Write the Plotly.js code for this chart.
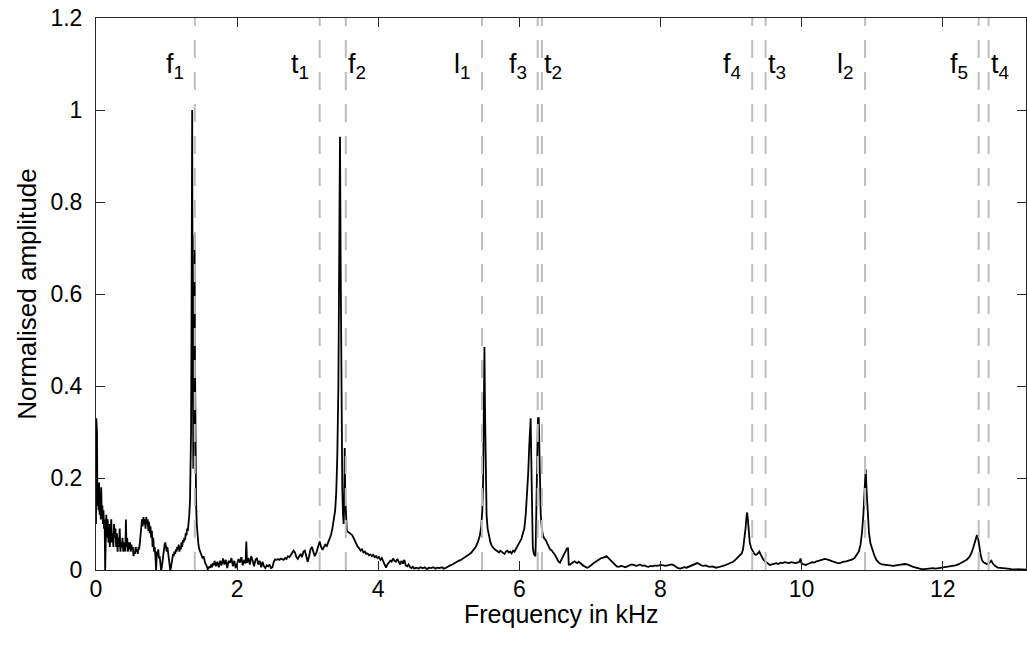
<!DOCTYPE html>
<html>
<head>
<meta charset="utf-8">
<script src="https://cdn.plot.ly/plotly-3.0.1.min.js"></script>
<style>
html,body{margin:0;padding:0;background:#fff;}
#chart{width:1027px;height:652px;}
</style>
</head>
<body>
<div id="chart"></div>
<script>
// Spectrum (frequency in kHz, normalised amplitude)
const freqKHz = [
0.000,0.004,0.008,0.014,0.020,0.028,0.036,0.044,0.052,0.060,0.068,0.074,0.082,0.090,0.098,0.106,0.114,0.122,0.130,0.136,
0.146,0.156,0.166,0.176,0.186,0.196,0.206,0.216,0.226,0.236,0.246,0.256,0.266,0.276,0.286,0.296,0.306,0.316,0.326,0.336,
0.346,0.356,0.366,0.376,0.386,0.396,0.406,0.416,0.424,0.432,0.442,0.452,0.462,0.472,0.482,0.492,0.502,0.512,0.522,0.532,
0.542,0.552,0.562,0.572,0.582,0.592,0.602,0.612,0.622,0.632,0.642,0.652,0.662,0.672,0.682,0.692,0.702,0.712,0.722,0.732,
0.742,0.752,0.762,0.772,0.782,0.792,0.802,0.812,0.822,0.832,0.842,0.852,0.862,0.872,0.882,0.892,0.902,0.912,0.922,0.932,
0.942,0.952,0.962,0.972,0.982,0.992,1.002,1.012,1.022,1.032,1.042,1.052,1.062,1.072,1.082,1.092,1.102,1.112,1.122,1.132,
1.142,1.152,1.162,1.172,1.182,1.192,1.202,1.212,1.222,1.232,1.242,1.252,1.262,1.272,1.282,1.292,1.302,1.312,1.322,1.332,
1.340,1.347,1.353,1.358,1.363,1.368,1.373,1.379,1.386,1.392,1.397,1.403,1.410,1.418,1.428,1.440,1.452,1.464,1.476,1.488,
1.500,1.512,1.524,1.536,1.548,1.560,1.572,1.584,1.596,1.608,1.620,1.632,1.644,1.656,1.668,
1.680,1.700,1.720,1.740,1.760,1.780,1.800,1.820,1.840,1.860,1.880,1.900,1.920,1.940,1.960,1.980,2.000,2.020,2.040,2.060,
2.080,2.100,2.120,2.130,2.140,2.160,2.180,2.200,2.220,2.240,2.260,2.280,2.300,2.320,2.340,2.360,2.380,2.400,2.420,2.440,
2.460,2.480,2.500,2.520,2.540,2.560,2.580,2.600,2.620,2.640,2.660,2.680,2.700,2.720,2.740,2.760,2.780,2.800,2.820,2.840,
2.860,2.880,2.900,2.920,2.940,2.960,2.980,3.000,3.020,3.040,3.060,3.080,3.100,3.120,3.140,3.160,3.170,3.190,3.210,3.230,
3.250,3.270,3.290,3.310,3.330,3.350,3.370,3.390,3.405,3.420,3.435,3.447,3.458,3.468,3.478,3.490,3.500,3.510,3.518,3.525,
3.532,3.542,3.555,3.570,3.590,3.610,3.630,3.650,3.670,3.690,3.710,3.730,3.750,3.770,3.790,3.810,3.830,3.850,3.870,3.890,
3.910,3.930,3.950,3.970,3.990,4.010,4.030,4.050,4.070,4.090,4.110,4.130,4.150,4.170,4.190,4.210,4.230,4.250,4.270,4.290,
4.310,4.330,4.350,4.370,4.390,4.410,4.430,4.450,4.470,4.490,4.510,4.540,4.570,4.600,4.630,4.660,4.690,4.720,4.750,4.780,
4.810,4.840,4.870,4.900,4.930,4.960,4.990,5.020,5.050,5.080,5.110,5.140,5.170,5.200,5.230,5.260,5.290,5.320,5.350,5.380,
5.410,5.440,5.460,5.475,5.487,5.497,5.505,5.513,5.522,5.535,5.550,5.570,5.590,5.610,5.630,5.650,5.670,5.690,5.710,5.730,
5.750,5.770,5.790,5.810,5.830,5.850,5.870,5.890,5.910,5.930,5.950,5.970,5.990,6.010,6.030,6.050,6.070,6.090,6.110,6.125,
6.140,6.152,6.160,6.168,6.178,6.190,6.205,6.220,6.228,6.236,6.245,6.255,6.263,6.275,6.283,6.292,6.303,6.318,6.335,6.355,
6.375,6.395,6.415,6.435,6.455,6.475,6.495,6.515,6.535,6.555,6.575,6.595,6.615,6.635,6.655,6.675,6.690,6.700,6.720,6.740,
6.760,6.780,6.800,6.820,6.840,6.860,6.880,6.900,6.920,6.940,6.960,6.980,7.000,7.030,7.060,7.090,7.120,7.150,7.180,7.210,
7.235,7.260,7.290,7.320,7.350,7.380,7.410,7.440,7.470,7.500,7.530,7.560,7.590,7.620,7.650,7.680,7.710,7.740,7.770,7.800,
7.830,7.860,7.890,7.920,7.950,7.980,8.010,8.040,8.070,8.100,8.130,8.160,8.190,8.220,8.250,8.280,8.310,8.340,8.370,8.400,
8.430,8.460,8.490,8.520,8.550,8.580,8.610,8.640,8.670,8.700,8.730,8.760,8.790,8.820,8.850,8.880,8.910,8.940,8.970,9.000,
9.030,9.060,9.090,9.120,9.150,9.170,9.190,9.205,9.218,9.228,9.238,9.250,9.265,9.285,9.305,9.325,9.345,9.365,9.385,9.400,
9.415,9.435,9.460,9.490,9.520,9.550,9.580,9.610,9.640,9.670,9.700,9.730,9.760,9.790,9.820,9.850,9.880,9.910,9.940,9.970,
9.985,10.000,10.030,10.060,10.090,10.120,10.150,10.180,10.210,10.240,10.270,10.300,10.330,10.360,10.390,10.420,10.450,10.480,10.510,10.540,
10.570,10.600,10.630,10.660,10.690,10.720,10.750,10.780,10.810,10.835,10.855,10.875,10.893,10.908,10.922,10.938,10.955,10.975,11.000,11.030,
11.060,11.100,11.140,11.180,11.220,11.260,11.300,11.340,11.380,11.420,11.460,11.500,11.540,11.580,11.620,11.660,11.700,11.740,11.780,11.820,
11.860,11.900,11.940,11.980,12.020,12.060,12.100,12.140,12.180,12.220,12.260,12.300,12.340,12.380,12.410,12.440,12.465,12.485,12.500,12.515,
12.535,12.555,12.575,12.600,12.620,12.645,12.670,12.690,12.710,12.740,12.780,12.820,12.870,12.920,12.970,13.020,13.070,13.120,13.180
];
const amplitude = [
0.10,0.33,0.12,0.30,0.14,0.17,0.13,0.19,0.12,0.16,0.11,0.18,0.12,0.14,0.10,0.13,0.09,0.11,0.00,0.10,
0.12,0.07,0.11,0.06,0.10,0.05,0.09,0.11,0.06,0.08,0.05,0.10,0.07,0.09,0.05,0.08,0.04,0.07,0.05,0.09,
0.04,0.06,0.05,0.07,0.04,0.06,0.05,0.04,0.11,0.05,0.07,0.04,0.06,0.045,0.06,0.04,0.055,0.045,0.05,0.03,
0.04,0.035,0.05,0.04,0.045,0.035,0.05,0.045,0.06,0.075,0.09,0.11,0.095,0.115,0.10,0.11,0.09,0.115,0.10,0.11,
0.085,0.105,0.08,0.095,0.07,0.085,0.05,0.07,0.04,0.05,0.03,0.00,0.04,0.03,0.045,0.025,0.03,0.01,0.00,0.005,
0.02,0.04,0.05,0.055,0.06,0.05,0.04,0.05,0.035,0.02,0.01,0.00,0.005,0.02,0.03,0.035,0.03,0.04,0.035,0.045,
0.04,0.05,0.045,0.055,0.04,0.05,0.045,0.06,0.05,0.065,0.06,0.07,0.065,0.08,0.075,0.09,0.085,0.10,0.12,0.15,
0.20,0.30,0.50,0.75,1.00,0.62,0.35,0.22,0.35,0.60,0.73,0.45,0.25,0.15,0.10,0.07,0.055,0.045,0.04,0.035,
0.03,0.025,0.03,0.02,0.015,0.012,0.005,0.002,0.004,0.008,0.005,0.012,0.006,0.015,0.01,
0.02,0.008,0.018,0.006,0.02,0.01,0.025,0.012,0.022,0.004,0.02,0.016,0.026,0.008,0.02,0.004,0.015,0.024,0.016,0.028,
0.01,0.022,0.014,0.062,0.016,0.026,0.012,0.03,0.02,0.008,0.022,0.026,0.012,0.02,0.006,0.018,0.008,0.004,0.01,0.008,
0.012,0.004,0.006,0.018,0.023,0.022,0.024,0.022,0.025,0.023,0.022,0.026,0.024,0.03,0.028,0.032,0.036,0.042,0.038,0.028,
0.024,0.03,0.035,0.028,0.04,0.042,0.03,0.018,0.03,0.045,0.05,0.04,0.03,0.036,0.048,0.055,0.062,0.05,0.044,0.05,
0.055,0.052,0.06,0.065,0.076,0.09,0.11,0.13,0.17,0.25,0.40,0.65,0.942,0.65,0.35,0.18,0.12,0.10,0.14,0.265,
0.16,0.10,0.085,0.083,0.08,0.078,0.076,0.07,0.062,0.055,0.05,0.047,0.042,0.045,0.038,0.04,0.035,0.036,0.032,0.034,
0.03,0.033,0.028,0.03,0.026,0.028,0.022,0.026,0.018,0.014,0.005,0.012,0.015,0.02,0.018,0.025,0.02,0.018,0.024,0.016,
0.012,0.02,0.014,0.022,0.01,0.008,0.012,0.006,0.004,0.007,0.003,0.005,0.003,0.006,0.004,0.006,0.002,0.005,0.004,0.006,
0.003,0.005,0.004,0.006,0.003,0.005,0.008,0.01,0.012,0.015,0.017,0.02,0.022,0.025,0.028,0.03,0.034,0.038,0.043,0.05,
0.06,0.075,0.095,0.13,0.20,0.35,0.485,0.35,0.20,0.12,0.09,0.072,0.06,0.052,0.048,0.045,0.043,0.04,0.038,0.042,
0.04,0.037,0.035,0.04,0.042,0.038,0.04,0.036,0.042,0.04,0.045,0.05,0.055,0.06,0.068,0.08,0.09,0.12,0.16,0.21,
0.27,0.33,0.33,0.25,0.12,0.05,0.035,0.03,0.03,0.09,0.18,0.28,0.33,0.33,0.28,0.18,0.12,0.09,0.075,0.068,
0.065,0.058,0.05,0.045,0.043,0.04,0.035,0.03,0.024,0.018,0.016,0.022,0.028,0.034,0.04,0.047,0.047,0.012,0.012,0.015,
0.017,0.019,0.017,0.015,0.018,0.016,0.013,0.01,0.008,0.006,0.005,0.006,0.008,0.012,0.016,0.02,0.022,0.025,0.026,0.028,
0.03,0.026,0.022,0.017,0.012,0.008,0.007,0.009,0.008,0.006,0.008,0.01,0.012,0.011,0.009,0.01,0.012,0.009,0.01,0.008,
0.007,0.009,0.008,0.01,0.009,0.01,0.011,0.01,0.009,0.01,0.011,0.012,0.01,0.007,0.004,0.003,0.004,0.006,0.005,0.007,
0.01,0.012,0.014,0.015,0.013,0.01,0.009,0.01,0.008,0.007,0.008,0.006,0.005,0.006,0.007,0.009,0.01,0.012,0.014,0.016,
0.018,0.022,0.026,0.03,0.036,0.045,0.065,0.09,0.115,0.125,0.11,0.08,0.06,0.048,0.04,0.036,0.033,0.034,0.037,0.04,
0.035,0.028,0.022,0.018,0.014,0.011,0.012,0.014,0.015,0.013,0.016,0.015,0.017,0.016,0.015,0.017,0.016,0.015,0.016,0.018,
0.025,0.014,0.012,0.011,0.013,0.015,0.017,0.016,0.019,0.02,0.021,0.023,0.024,0.023,0.022,0.02,0.018,0.016,0.015,0.015,
0.017,0.018,0.019,0.02,0.021,0.023,0.026,0.032,0.04,0.055,0.08,0.12,0.17,0.219,0.17,0.12,0.08,0.058,0.045,0.032,
0.022,0.015,0.012,0.011,0.01,0.009,0.009,0.01,0.011,0.012,0.013,0.012,0.009,0.007,0.005,0.003,0.002,0.002,0.003,0.003,
0.004,0.003,0.004,0.005,0.005,0.006,0.007,0.009,0.01,0.012,0.015,0.018,0.022,0.029,0.038,0.052,0.068,0.076,0.07,0.052,
0.035,0.022,0.017,0.015,0.013,0.014,0.018,0.02,0.014,0.009,0.005,0.004,0.003,0.003,0.002,0.002,0.001,0.001,0.001
];

// Mode markers (dashed lines) and their labels
const markerFreqs   = [1.40, 3.17, 3.54, 5.47, 6.26, 6.32, 9.30, 9.49, 10.90, 12.51, 12.65];
const markerLetters = ['f','t','f','l','f','t','f','t','l','f','t'];
const markerIndex   = ['1','1','2','1','3','2','4','3','2','5','4'];
const markerSide    = ['L','L','R','L','L','R','L','R','L','L','R'];

const xTickVals = [0,2,4,6,8,10,12];
const yTickVals = [0,0.2,0.4,0.6,0.8,1,1.2];
const xTitle = 'Frequency in kHz';
const yTitle = 'Normalised amplitude';

const FONT = 'Liberation Sans, Arial, Helvetica, sans-serif';

const shapes = markerFreqs.map(f => ({
  type:'line', xref:'x', yref:'paper', x0:f, x1:f, y0:0, y1:1,
  line:{color:'#bdbdbd', width:2, dash:'18px,14px'}, layer:'above'
}));

const annotations = markerFreqs.map((f,i) => ({
  x:f, xref:'x', y:1.095, yref:'y',
  text: markerLetters[i] + '<sub>' + markerIndex[i] + '</sub>',
  showarrow:false,
  xanchor: markerSide[i]==='L' ? 'right' : 'left',
  xshift: markerSide[i]==='L' ? -9 : 0,
  yanchor:'middle',
  font:{family:FONT, size:27, color:'#000'}
}));

// x-axis title placed just below the tick labels
annotations.push({
  text:xTitle, xref:'paper', yref:'paper', x:0.5, y:0, yshift:-44,
  xanchor:'center', yanchor:'middle', showarrow:false,
  font:{family:FONT, size:25, color:'#000'}
});

const trace = {
  x: freqKHz, y: amplitude, type:'scatter', mode:'lines',
  line:{color:'#000', width:1.8}, hoverinfo:'skip'
};

const axisCommon = {
  showgrid:false, zeroline:false, showline:true, linecolor:'#262626', linewidth:1,
  mirror:'ticks', ticks:'inside', ticklen:9, tickcolor:'#262626', tickwidth:1,
  tickfont:{family:FONT, size:23, color:'#000'}
};

const layout = {
  width:1027, height:652,
  margin:{l:96, r:1, t:18, b:82, pad:0},
  paper_bgcolor:'#fff', plot_bgcolor:'#fff',
  showlegend:false,
  font:{family:FONT, color:'#000'},
  xaxis: Object.assign({}, axisCommon, {
    range:[0,13.18], tickvals:xTickVals, ticktext:xTickVals.map(String),
    ticklabelstandoff:-2
  }),
  yaxis: Object.assign({}, axisCommon, {
    range:[0,1.2], tickvals:yTickVals, ticktext:yTickVals.map(String),
    ticklabelstandoff:8,
    title:{text:yTitle, font:{family:FONT, size:26, color:'#000'}, standoff:6}
  }),
  shapes: shapes,
  annotations: annotations
};

Plotly.newPlot('chart', [trace], layout, {staticPlot:true, displayModeBar:false});
</script>
</body>
</html>
